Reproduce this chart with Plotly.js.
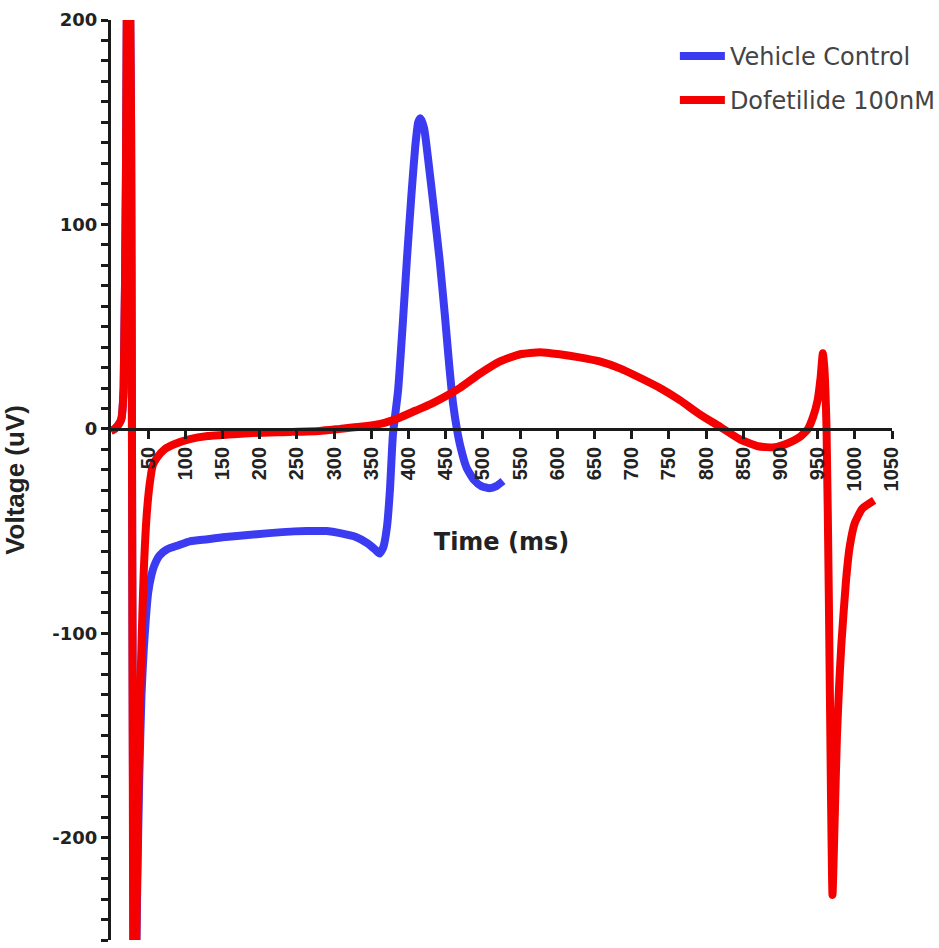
<!DOCTYPE html>
<html>
<head>
<meta charset="utf-8">
<script src="https://cdn.plot.ly/plotly-3.0.1.min.js"></script>
<style>html,body{margin:0;padding:0;background:#fff;}#chart{width:939px;height:948px;}</style>
</head>
<body>
<div id="chart"></div>
<script>
// Vehicle Control (blue) — time (ms) and voltage (uV)
const vehicleTime = [0,5,10,14,17,20,23,27,31,35,38,41,44,47,50,54,58,65,75,90,106,130,150,196,230,263,290,308,330,345,355,361,366,371,375,379,386,392,398,404,409,413,416,421,426,434,442,449,455,460,465,470,478,488,498,509,518,527];
const vehicleVolt = [-1,0,2,5,20,120,300,150,-330,-230,-170,-130,-108,-92,-80,-72,-67,-62,-59,-57,-55,-54,-53,-51.5,-50.5,-50,-50,-51,-53,-56,-59,-61,-58,-48,-30,-3,19,50,84,115,138,150,152,147,133,108,82,55,30,12,0,-9,-19,-25,-28,-29,-28,-25.5];

// Dofetilide 100nM (red)
const dofTime = [0,5,10,14,17,20,23,27,31,35,38,41,44,48,52,56,62,72,85,106,130,150,190,240,280,308,335,362,388,410,429,450,469,496,523,550,577,603,630,657,685,711,738,765,792,819,845,870,892,910,926,937,944,950,954,957,959,962,965,968,970,973,976,979,982,988,993,1000,1010,1026];
const dofVolt = [-1,0,2,5,20,120,320,150,-330,-220,-150,-105,-70,-42,-27,-18,-14,-10,-7.5,-5,-3.5,-3,-2,-1.5,-1,0,1,2.5,5.5,9,12,16,20,27,33,36.5,37.5,36.5,35,33,29.5,25,20,14,7,1,-5,-8.5,-9,-7,-4,0,6,14,25,37,30,0,-80,-180,-228,-190,-150,-125,-105,-75,-58,-46,-39,-35];

const seriesNames = ["Vehicle Control", "Dofetilide 100nM"];
const xTickVals = [50,100,150,200,250,300,350,400,450,500,550,600,650,700,750,800,850,900,950,1000,1050];
const yLabelVals = [-200,-100,0,100,200];
const yLabelText = ["-200","-100","0","100","200"];

const xRange = [0, 1050];
const yRange = [-250, 200];

// y ticks every 10 uV (minor), labelled only at the hundreds
const yTickVals = [];
const yTickText = [];
for (let v = yRange[0]; v <= yRange[1]; v += 10) {
  yTickVals.push(v);
  const i = yLabelVals.indexOf(v);
  yTickText.push(i >= 0 ? yLabelText[i] : '');
}

const traces = [
  {x: vehicleTime, y: vehicleVolt, name: seriesNames[0], type: 'scatter', mode: 'lines',
   line: {color: '#3b3bf2', width: 8, shape: 'spline', smoothing: 0.5}, legendgroup: 'a'},
  {x: dofTime, y: dofVolt, name: seriesNames[1], type: 'scatter', mode: 'lines',
   line: {color: '#f50000', width: 8, shape: 'spline', smoothing: 0.5}, legendgroup: 'b'}
];

const axisColor = '#1a1a1a';
const layout = {
  width: 939, height: 948,
  margin: {l: 111, r: 47, t: 20, b: 8, autoexpand: false},
  paper_bgcolor: '#fff', plot_bgcolor: '#fff',
  showlegend: true,
  legend: {x: 0.722, y: 0.985, xanchor: 'left', yanchor: 'top', bgcolor: 'rgba(0,0,0,0)',
           itemwidth: 45,
           font: {family: 'DejaVu Sans', size: 24, color: '#444'}, tracegroupgap: 10},
  xaxis: {
    range: xRange, anchor: 'free', position: (0 - yRange[0]) / (yRange[1] - yRange[0]),
    showline: true, linecolor: axisColor, linewidth: 3,
    showgrid: false, zeroline: false,
    tickmode: 'array', tickvals: xTickVals, ticktext: xTickVals.map(String),
    ticks: 'outside', ticklen: 8, tickwidth: 3, tickcolor: axisColor,
    tickangle: -90,
    tickfont: {family: 'Liberation Sans', size: 20, weight: 'bold', color: '#222'},
    title: {text: 'Time (ms)', font: {family: 'DejaVu Sans', size: 24, weight: 'bold', color: '#222'}, standoff: 42}
  },
  yaxis: {
    range: yRange,
    showline: true, linecolor: axisColor, linewidth: 3,
    showgrid: false, zeroline: false,
    tickmode: 'array', tickvals: yTickVals, ticktext: yTickText,
    ticks: 'outside', ticklen: 7, tickwidth: 3, tickcolor: axisColor,
    tickfont: {family: 'DejaVu Sans', size: 18, weight: 'bold', color: '#222'},
    title: {text: 'Voltage (uV)', font: {family: 'Liberation Sans', size: 26, weight: 'bold', color: '#222'}, standoff: 24}
  }
};

Plotly.newPlot('chart', traces, layout, {displayModeBar: false, staticPlot: true});
</script>
</body>
</html>
